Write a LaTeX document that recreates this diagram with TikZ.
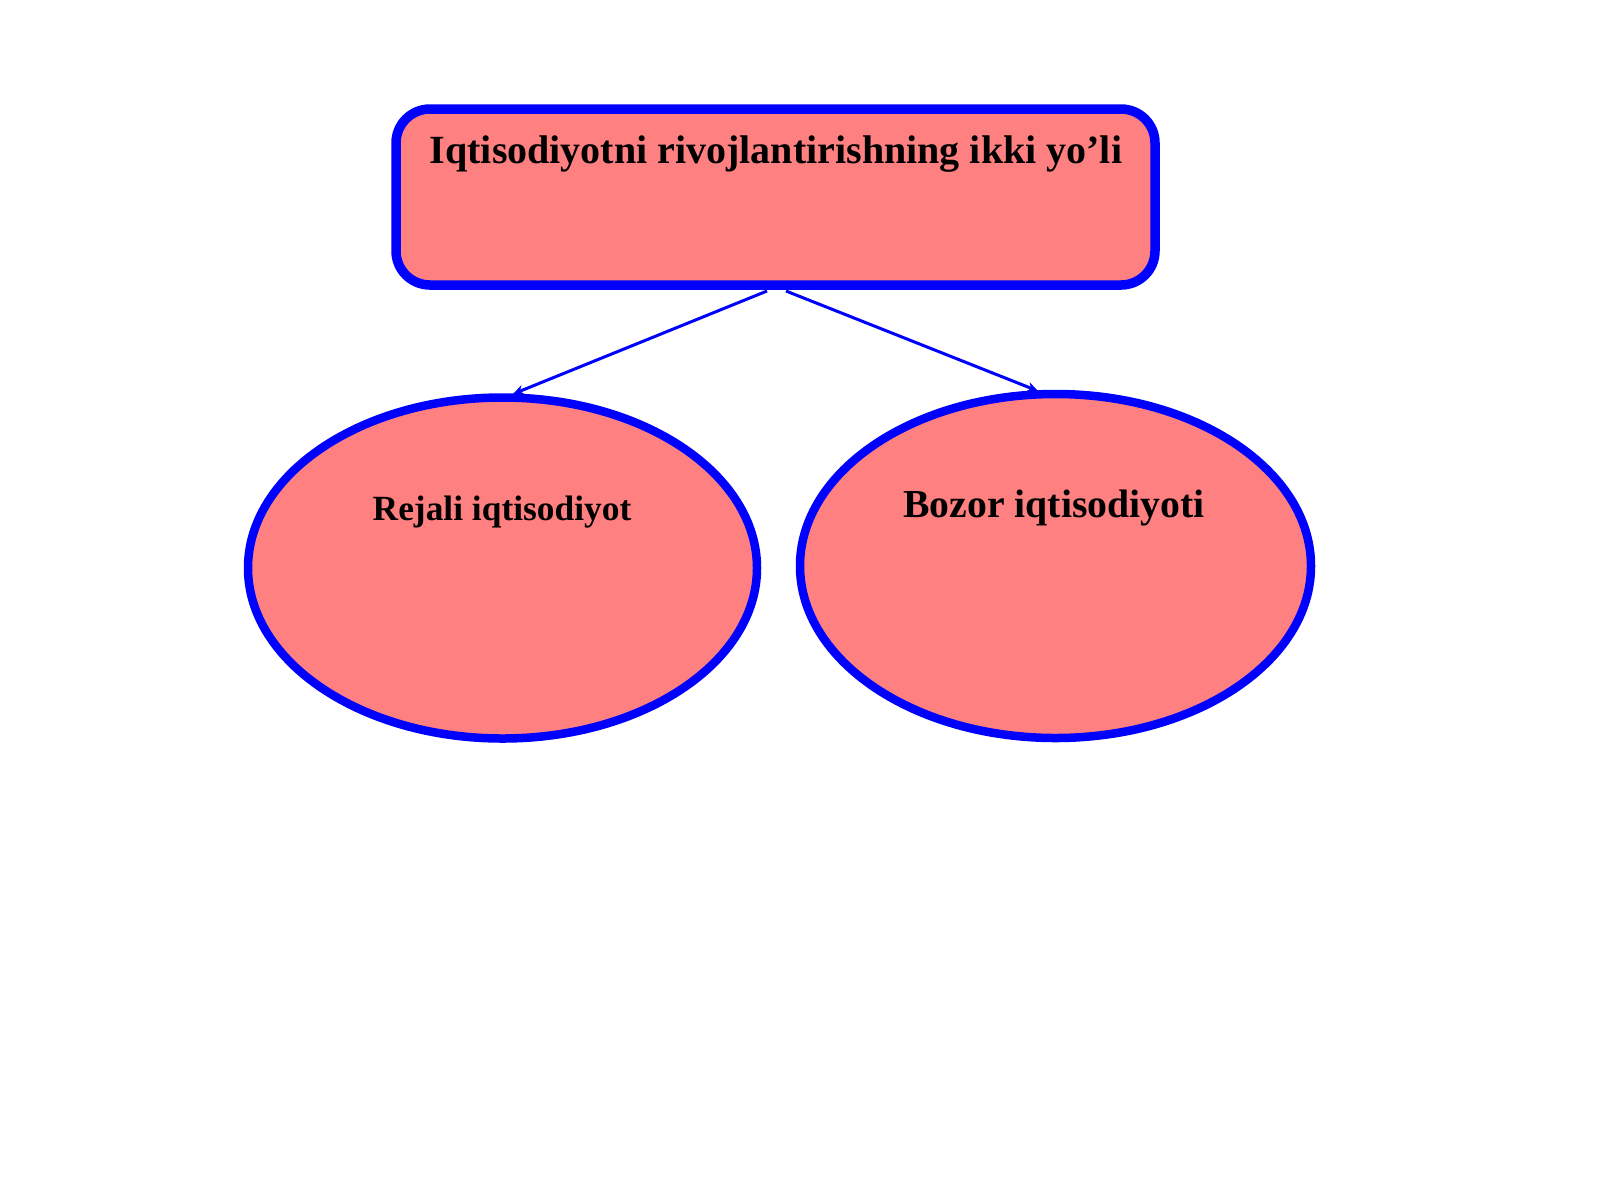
\documentclass[tikz,border=0pt]{standalone}
\usepackage{fontspec}
\setmainfont{Liberation Serif}
\usetikzlibrary{shapes.geometric,arrows.meta}
\definecolor{salmonfill}{RGB}{255,128,128}
\definecolor{pureblue}{RGB}{0,0,255}
\begin{document}
\begin{tikzpicture}[x=1pt,y=1pt,
  boxshape/.style={draw=pureblue,line width=9.5pt,fill=salmonfill,rounded corners=34pt,inner sep=0pt},
  ovalshape/.style={draw=pureblue,line width=8.5pt,fill=salmonfill,ellipse,inner sep=0pt},
  conn/.style={draw=pureblue,line width=3pt,-{Stealth[length=11pt,width=10pt]}},
  txt/.style={text=black,inner sep=0pt}]
\useasboundingbox (0,0) rectangle (1600,-1200);
\fill[white] (0,0) rectangle (1600,-1200);
\node[boxshape,minimum width=759pt,minimum height=176pt] (top) at (775.5,-197) {};
\node[ovalshape,minimum width=509pt,minimum height=341pt] (left) at (502.5,-568) {};
\node[ovalshape,minimum width=511pt,minimum height=344pt] (right) at (1055.5,-566) {};
\node[txt,font=\fontsize{40}{44}\selectfont\bfseries] (toptxt) at (776,-154) {Iqtisodiyotni rivojlantirishning ikki yo’li};
\node[txt,font=\fontsize{35.4}{40}\selectfont\bfseries] (lefttxt) at (502,-512) {Rejali iqtisodiyot};
\node[txt,font=\fontsize{39.7}{44}\selectfont\bfseries] (righttxt) at (1054,-508) {Bozor iqtisodiyoti};
\coordinate (s1) at (767,-291);
\coordinate (s2) at (786,-291);
\coordinate (e1) at (513,-394);
\coordinate (e2) at (1038,-391);
\draw[conn] (s1) -- (e1);
\draw[conn] (s2) -- (e2);
\end{tikzpicture}
\end{document}
